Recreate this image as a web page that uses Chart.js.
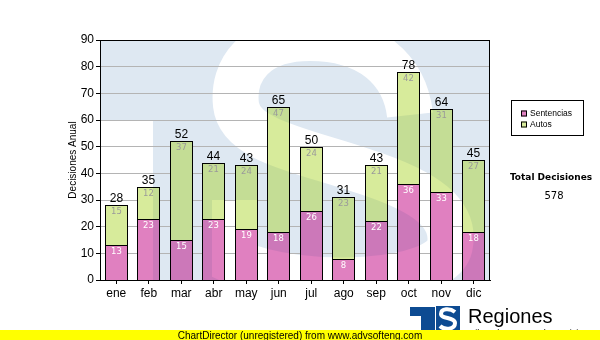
<!DOCTYPE html>
<html>
<head>
<meta charset="utf-8">
<title>Decisiones Anual</title>
<script src="https://cdn.jsdelivr.net/npm/chart.js@4.4.0/dist/chart.umd.min.js"></script>
<style>
  html, body { margin: 0; padding: 0; background: #fff; }
</style>
</head>
<body>
<canvas id="grafico" width="600" height="340"></canvas>
<script>
// Decisiones por mes, apiladas: sentencias abajo, autos arriba
const meses = ['ene', 'feb', 'mar', 'abr', 'may', 'jun', 'jul', 'ago', 'sep', 'oct', 'nov', 'dic'];
const sentencias = [13, 23, 15, 23, 19, 18, 26, 8, 22, 36, 33, 18];
const autos = [15, 12, 37, 21, 24, 47, 24, 23, 21, 42, 31, 27];
const ejeMin = 0;
const ejeMax = 90;
const ejePaso = 10;

const rosa = '#e080c0';
const verde = '#d7eb9b';
const azulFondo = '#dee8f2';
const azulLogo = '#0d4b92';
const arial = '"Liberation Sans", Arial, sans-serif';
const dejavu = '"DejaVu Sans", Verdana, sans-serif';

// marca de agua "TS" del área de trazado
function marcaDeAgua(area) {
  const c = document.createElement('canvas');
  c.width = area.right - area.left;
  c.height = area.bottom - area.top;
  const g = c.getContext('2d');
  g.translate(-area.left, -area.top);
  g.fillStyle = azulFondo;
  g.fillRect(area.left, area.top, c.width, c.height);
  g.fillStyle = '#fff';
  g.fillRect(area.left, 120, 53, area.bottom - 120);
  g.strokeStyle = '#fff';
  g.lineWidth = 46;
  g.beginPath();
  g.moveTo(410, 115);
  g.bezierCurveTo(405, 70, 370, 38, 310, 38);
  g.bezierCurveTo(255, 38, 232, 70, 236, 105);
  g.bezierCurveTo(240, 140, 300, 150, 360, 170);
  g.bezierCurveTo(430, 192, 455, 215, 450, 245);
  g.bezierCurveTo(445, 285, 300, 292, 235, 262);
  g.lineTo(235, 200);
  g.stroke();
  return c;
}

let fondo = null;

const pluginDecorado = {
  id: 'decorado',
  beforeDraw(chart) {
    const ctx = chart.ctx;
    const a = chart.chartArea;
    fondo = marcaDeAgua(a);
    ctx.save();
    ctx.fillStyle = '#fff';
    ctx.fillRect(0, 0, chart.width, chart.height);
    ctx.drawImage(fondo, a.left, a.top);
    ctx.restore();
  },
  beforeDatasetsDraw(chart) {
    // ajusta las barras a la rejilla de píxeles para bordes nítidos
    chart.data.datasets.forEach((ds, i) => {
      chart.getDatasetMeta(i).data.forEach((b) => {
        b.x = Math.round(b.x - 0.5) + 0.5;
        b.y = Math.round(b.y);
        b.base = Math.round(b.base);
        b.width = 23;
      });
    });
  },
  afterDatasetsDraw(chart) {
    const ctx = chart.ctx;
    const a = chart.chartArea;

    // la marca de agua se transparenta sobre las barras
    ctx.save();
    ctx.beginPath();
    chart.data.datasets.forEach((ds, i) => {
      chart.getDatasetMeta(i).data.forEach((b) => {
        ctx.rect(b.x - b.width / 2, Math.min(b.y, b.base), b.width, Math.abs(b.base - b.y));
      });
    });
    ctx.clip();
    ctx.globalCompositeOperation = 'multiply';
    ctx.globalAlpha = 0.65;
    ctx.drawImage(fondo, a.left, a.top);
    ctx.restore();

    // marco del área de trazado
    ctx.save();
    ctx.strokeStyle = '#000';
    ctx.lineWidth = 1;
    ctx.strokeRect(a.left + 0.5, a.top + 0.5, a.right - a.left - 1, a.bottom - a.top);
    ctx.restore();

    // valores de cada segmento y total encima de la barra
    const barrasS = chart.getDatasetMeta(0).data;
    const barrasA = chart.getDatasetMeta(1).data;
    ctx.save();
    ctx.textAlign = 'center';
    ctx.textBaseline = 'middle';
    ctx.font = '8.5px ' + dejavu;
    barrasS.forEach((b, i) => {
      ctx.fillStyle = '#fff';
      ctx.fillText(sentencias[i], b.x, b.y + 7);
    });
    barrasA.forEach((b, i) => {
      ctx.fillStyle = '#9a9a9a';
      ctx.fillText(autos[i], b.x, b.y + 7);
    });
    ctx.font = '12px ' + arial;
    ctx.fillStyle = '#000';
    ctx.textBaseline = 'alphabetic';
    barrasA.forEach((b, i) => {
      ctx.fillText(sentencias[i] + autos[i], b.x, b.y - 3);
    });
    ctx.restore();
  },
  afterDraw(chart) {
    const ctx = chart.ctx;
    ctx.save();

    // leyenda
    ctx.fillStyle = '#fff';
    ctx.fillRect(511, 100, 72, 35);
    ctx.strokeStyle = '#000';
    ctx.lineWidth = 1;
    ctx.strokeRect(511.5, 100.5, 72, 35);
    chart.data.datasets.forEach((ds, i) => {
      const y = 113.5 + i * 11;
      ctx.fillStyle = ds.backgroundColor;
      ctx.fillRect(521, y - 3, 6, 6);
      ctx.strokeRect(521.5, y - 2.5, 5, 5);
      ctx.fillStyle = '#000';
      ctx.font = '8.5px ' + arial;
      ctx.textAlign = 'left';
      ctx.textBaseline = 'middle';
      ctx.fillText(ds.label, 530, y + 0.5);
    });

    // total de decisiones
    const total = sentencias.concat(autos).reduce((s, v) => s + v, 0);
    ctx.textAlign = 'center';
    ctx.fillStyle = '#000';
    ctx.font = 'bold 9px ' + dejavu;
    ctx.fillText('Total Decisiones', 551, 178);
    ctx.font = '10px ' + dejavu;
    ctx.fillText(String(total), 554, 196);

    // logo inferior
    ctx.fillStyle = azulLogo;
    ctx.fillRect(410, 307, 25, 9);
    ctx.fillRect(421, 307, 14, 26);
    ctx.fillRect(436, 306, 24, 27);
    ctx.strokeStyle = '#fff';
    ctx.lineWidth = 4;
    ctx.beginPath();
    ctx.moveTo(455, 312);
    ctx.bezierCurveTo(450, 308, 441, 308, 441, 314);
    ctx.bezierCurveTo(441, 319, 455, 317, 455, 323);
    ctx.bezierCurveTo(455, 330, 444, 330, 440, 326);
    ctx.stroke();
    ctx.fillStyle = '#000';
    ctx.textAlign = 'left';
    ctx.textBaseline = 'alphabetic';
    ctx.font = '20px ' + arial;
    ctx.fillText('Regiones', 468, 323);
    ctx.font = '9px ' + arial;
    ctx.fillText('Tribunal Supremo de Justicia', 467, 336);

    // franja inferior
    ctx.fillStyle = '#ffff00';
    ctx.fillRect(0, 330, chart.width, 10);
    ctx.fillStyle = '#000';
    ctx.textAlign = 'center';
    ctx.font = '10px ' + arial;
    ctx.fillText('ChartDirector (unregistered) from www.advsofteng.com', 300, 338.5);
    ctx.restore();
  }
};

const ctx = document.getElementById('grafico').getContext('2d');
const grafico = new Chart(ctx, {
  type: 'bar',
  data: {
    labels: meses,
    datasets: [{
      label: 'Sentencias',
      data: sentencias,
      backgroundColor: rosa,
      borderColor: '#000',
      borderWidth: 1
    }, {
      label: 'Autos',
      data: autos,
      backgroundColor: verde,
      borderColor: '#000',
      borderWidth: 1
    }]
  },
  options: {
    responsive: false,
    animation: false,
    devicePixelRatio: 1,
    layout: { padding: { top: 40, right: 110, bottom: 0, left: 0 } },
    datasets: { bar: { barPercentage: 0.7, categoryPercentage: 1, inflateAmount: 0 } },
    plugins: {
      legend: { display: false },
      tooltip: { enabled: false }
    },
    scales: {
      x: {
        stacked: true,
        grid: { offset: false, drawOnChartArea: false, tickLength: 4, color: '#000' },
        border: { color: '#000' },
        ticks: { color: '#000', padding: 2, font: { family: arial, size: 12 } },
        afterFit: (s) => { s.height = 60; }
      },
      y: {
        stacked: true,
        min: ejeMin,
        max: ejeMax,
        ticks: { stepSize: ejePaso, color: '#000', padding: 2, font: { family: arial, size: 12 } },
        grid: { color: '#b4b4b4', tickColor: '#000', tickLength: 4 },
        border: { color: '#000' },
        title: {
          display: true,
          text: 'Decisiones Anual',
          color: '#000',
          font: { family: arial, size: 10 },
          padding: { top: 67, bottom: 0 }
        },
        afterFit: (s) => { s.width = 100; }
      }
    }
  },
  plugins: [pluginDecorado]
});
</script>
</body>
</html>
